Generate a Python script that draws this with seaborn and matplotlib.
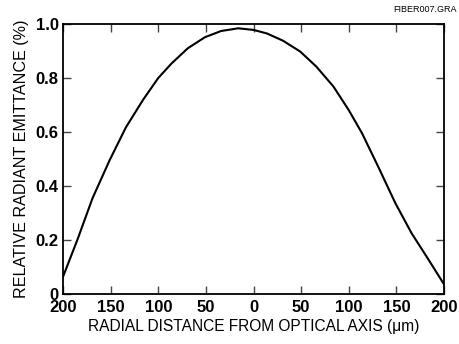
import matplotlib
matplotlib.use("Agg")
import matplotlib.pyplot as plt
import seaborn as sns
import pandas as pd

# Radial emittance profile of the fiber end face
distance_um = [-200, -185, -169, -151, -134, -116, -100, -86, -69, -51, -34, -16,
               0, 14, 31, 49, 66, 84, 100, 114, 131, 149, 166, 184, 200]
emittance = [0.064, 0.200, 0.355, 0.496, 0.617, 0.719, 0.800, 0.854, 0.910, 0.951,
             0.974, 0.984, 0.978, 0.965, 0.938, 0.898, 0.842, 0.768, 0.681, 0.595,
             0.471, 0.336, 0.225, 0.126, 0.036]

x_ticks = [-200, -150, -100, -50, 0, 50, 100, 150, 200]
x_tick_labels = ["200", "150", "100", "50", "0", "50", "100", "150", "200"]
y_ticks = [0, 0.2, 0.4, 0.6, 0.8, 1.0]
y_tick_labels = ["0", "0.2", "0.4", "0.6", "0.8", "1.0"]

sns.set_style("ticks")
plt.rcParams["font.family"] = ["Liberation Sans", "DejaVu Sans"]
plt.rcParams["text.color"] = "black"
plt.rcParams["axes.labelcolor"] = "black"
plt.rcParams["xtick.color"] = "black"
plt.rcParams["ytick.color"] = "black"

df = pd.DataFrame({"distance": distance_um, "emittance": emittance})

fig = plt.figure(figsize=(4.59, 3.44), dpi=100)
ax = fig.add_axes([0.1373, 0.1453, 0.8300, 0.7850])

sns.lineplot(data=df, x="distance", y="emittance", ax=ax,
             color="black", linewidth=1.5, sort=True)

ax.set_xlim(-200, 200)
ax.set_ylim(0, 1.0)
ax.set_xticks(x_ticks)
ax.set_xticklabels(x_tick_labels, fontsize=12, fontweight="bold")
ax.set_yticks(y_ticks)
ax.set_yticklabels(y_tick_labels, fontsize=12, fontweight="bold")

ax.tick_params(axis="both", direction="in", length=6, width=1.0,
               top=True, right=True, labeltop=False, labelright=False,
               color="#444444")
ax.tick_params(axis="x", pad=4)
ax.tick_params(axis="y", pad=3)

for side in ["left", "right", "top", "bottom"]:
    ax.spines[side].set_visible(True)
    ax.spines[side].set_linewidth(1.3)
    ax.spines[side].set_color("black")

ax.set_xlabel("RADIAL DISTANCE FROM OPTICAL AXIS (\u03bcm)", fontsize=11.2, labelpad=3)
ax.set_ylabel("RELATIVE RADIANT EMITTANCE (%)", fontsize=11.6, labelpad=5)

fig.text(0.995, 0.985, "FIBER007.GRA", ha="right", va="top", fontsize=6.5)

fig.savefig("out.png", dpi=100)
